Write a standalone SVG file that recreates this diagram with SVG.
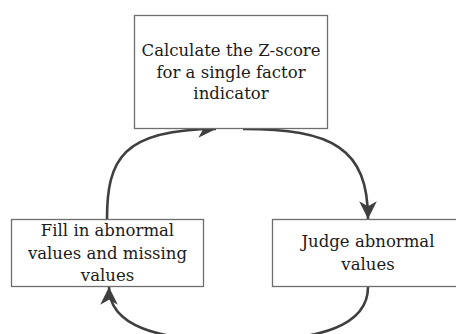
<svg xmlns="http://www.w3.org/2000/svg" width="456" height="334" viewBox="0 0 456 334">
<defs>
<style>
.box{fill:#fff;stroke:#6e6e6e;stroke-width:1.3}
.lbl{font-family:"DejaVu Serif","Liberation Serif",serif;font-size:16.5px;fill:#1a1a1a;text-anchor:middle}
.conn{fill:none;stroke:#3f3f3f;stroke-width:2.6}
</style>
<marker id="ah" viewBox="0 0 10 10" refX="10" refY="5" markerWidth="6.8" markerHeight="6.8" markerUnits="strokeWidth" orient="auto">
<path d="M0,0 L10,5 L0,10 L2.8,5 Z" fill="#3f3f3f"/>
</marker>
</defs>
<rect width="456" height="334" fill="#fff"/>
<g id="connectors">
<path class="conn" d="M107,219 C107,160 122,129 216,129" marker-end="url(#ah)"/>
<path class="conn" d="M243,129 C332,129 368,148 368,219" marker-end="url(#ah)"/>
<path class="conn" d="M368,287 C368,325 322,341 238,341 C155,341 109,325 109,287" marker-end="url(#ah)"/>
</g>
<g id="node-zscore">
<rect class="box" x="134.5" y="15.5" width="193" height="113"/>
<text class="lbl" x="231" y="56">Calculate the Z-score</text>
<text class="lbl" x="231" y="77.5">for a single factor</text>
<text class="lbl" x="231" y="99">indicator</text>
</g>
<g id="node-fill">
<rect class="box" x="11.5" y="219.5" width="192" height="67"/>
<text class="lbl" x="107.5" y="236">Fill in abnormal</text>
<text class="lbl" x="107.5" y="258.5">values and missing</text>
<text class="lbl" x="107.5" y="281">values</text>
</g>
<g id="node-judge">
<rect class="box" x="272.5" y="219.5" width="192" height="67"/>
<text class="lbl" x="368" y="247">Judge abnormal</text>
<text class="lbl" x="368" y="270">values</text>
</g>
</svg>
